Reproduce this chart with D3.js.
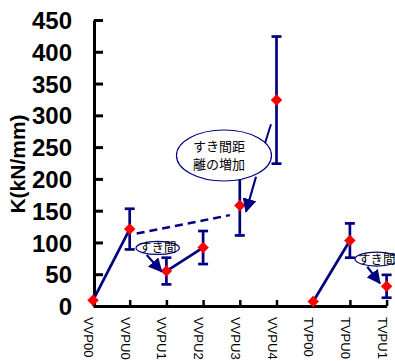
<!DOCTYPE html>
<html>
<head>
<meta charset="utf-8">
<script src="https://cdn.jsdelivr.net/npm/d3@7"></script>
<style>
  html, body { margin: 0; padding: 0; background: #fff; }
  svg { display: block; }
</style>
</head>
<body>
<svg id="chart" width="395" height="361"></svg>
<script>
// Stiffness K per specimen, with error half-widths
const categories = ["VVP00", "VVPU0", "VVPU1", "VVPU2", "VVPU3", "VVPU4", "TVP00", "TVPU0", "TVPU1"];
const kValues    = [9, 121, 55, 92, 158, 324, 7, 103, 31];
const kErrors    = [0, 32, 21, 26, 47, 100, 0, 27, 18];
// Pairs of specimens joined by the series line
const linkedPairs = [[0, 1], [2, 3], [6, 7]];
const yTicks = [0, 50, 100, 150, 200, 250, 300, 350, 400, 450];

// Callouts, placed in (category index, K) units
const dashedTrend = { from: [1.19, 114], to: [3.73, 143] };
const callouts = [
  { center: [1.763, 91.3], rx: 21.7, ry: 6.5, lines: ["すき間"], size: 12.5,
    arrow: { from: [1.463, 80.2], to: [1.872, 54.0] } },
  { center: [3.569, 236.8], rx: 47.5, ry: 25.5, lines: ["すき間距", "離の増加"], size: 13,
    arrow: { from: [4.441, 203.4], to: [4.169, 148.4] },
    leader: { from: [4.687, 256], to: [4.850, 285.9] } },
  { center: [7.730, 73.9], rx: 21.7, ry: 7, lines: ["すき間"], size: 12.5,
    arrow: { from: [7.474, 61.8], to: [7.820, 35.7] } }
];

const navy = "#000080";
const svg = d3.select("#chart");

const x = d3.scalePoint().domain(categories).range([93, 386.6]).padding(0);
const xi = d3.scaleLinear().domain([0, categories.length - 1]).range([93, 386.6]);
const y = d3.scaleLinear().domain([0, 450]).range([306, 20]);
const px = p => [xi(p[0]), y(p[1])];

// Arrowhead marker
svg.append("defs").append("marker")
  .attr("id", "head")
  .attr("markerUnits", "userSpaceOnUse")
  .attr("viewBox", "0 0 12 12")
  .attr("refX", 11).attr("refY", 6)
  .attr("markerWidth", 14).attr("markerHeight", 14)
  .attr("orient", "auto")
  .append("path").attr("d", "M0,0 L12,6 L0,12 Z").attr("fill", navy);

// Y axis
const yAxis = svg.append("g")
  .attr("transform", "translate(94,0)")
  .call(d3.axisLeft(y).tickValues(yTicks).tickSize(-9).tickSizeOuter(0).tickPadding(22));
yAxis.select(".domain").attr("stroke", "#000").attr("stroke-width", 3);
yAxis.selectAll(".tick line").attr("stroke", "#000").attr("stroke-width", 3);
yAxis.selectAll(".tick text")
  .attr("font-family", "Liberation Sans, Arial, sans-serif")
  .attr("font-weight", "bold").attr("font-size", 24).attr("fill", "#000")
  .attr("dy", "0.36em");

// X axis
const xAxis = svg.append("g")
  .attr("transform", "translate(0,306)")
  .call(d3.axisBottom(x).tickSize(-6).tickSizeOuter(0));
xAxis.select(".domain").attr("stroke", "#000").attr("stroke-width", 3);
xAxis.selectAll(".tick line").attr("stroke", "#000").attr("stroke-width", 2.5);
xAxis.selectAll(".tick text")
  .attr("font-family", "Liberation Sans, Arial, sans-serif")
  .attr("font-size", 13).attr("fill", "#000")
  .attr("text-anchor", "start")
  .attr("transform", "rotate(90)")
  .attr("x", 11).attr("y", 9.5).attr("dy", null);

// Y axis title
svg.append("text")
  .attr("transform", "translate(25,164) rotate(-90)")
  .attr("text-anchor", "middle")
  .attr("font-family", "Liberation Sans, Arial, sans-serif")
  .attr("font-weight", "bold").attr("font-size", 21)
  .text("K(kN/mm)");

const pts = categories.map((c, i) => ({ c, v: kValues[i], e: kErrors[i] }));

// Series line segments
svg.append("g").selectAll("line")
  .data(linkedPairs).join("line")
  .attr("x1", d => x(categories[d[0]])).attr("y1", d => y(kValues[d[0]]))
  .attr("x2", d => x(categories[d[1]])).attr("y2", d => y(kValues[d[1]]))
  .attr("stroke", navy).attr("stroke-width", 2.7);

// Error bars
const eb = svg.append("g").selectAll("g")
  .data(pts.filter(d => d.e > 0)).join("g")
  .attr("stroke", navy).attr("stroke-width", 2.7);
eb.append("line")
  .attr("x1", d => x(d.c)).attr("x2", d => x(d.c))
  .attr("y1", d => y(d.v - d.e)).attr("y2", d => y(d.v + d.e));
eb.append("line")
  .attr("x1", d => x(d.c) - 5).attr("x2", d => x(d.c) + 5)
  .attr("y1", d => y(d.v + d.e)).attr("y2", d => y(d.v + d.e));
eb.append("line")
  .attr("x1", d => x(d.c) - 5).attr("x2", d => x(d.c) + 5)
  .attr("y1", d => y(d.v - d.e)).attr("y2", d => y(d.v - d.e));

// Dashed trend line
svg.append("line")
  .attr("x1", px(dashedTrend.from)[0]).attr("y1", px(dashedTrend.from)[1])
  .attr("x2", px(dashedTrend.to)[0]).attr("y2", px(dashedTrend.to)[1])
  .attr("stroke", navy).attr("stroke-width", 2.5)
  .attr("stroke-dasharray", "8,5");

// Diamond markers
svg.append("g").selectAll("path")
  .data(pts).join("path")
  .attr("d", d3.symbol(d3.symbolSquare, 66))
  .attr("transform", d => `translate(${x(d.c)},${y(d.v)}) rotate(45)`)
  .attr("fill", "#ff0000");

// Callouts
const cg = svg.append("g").selectAll("g").data(callouts).join("g");
cg.filter(d => d.leader).append("line")
  .attr("x1", d => px(d.leader.from)[0]).attr("y1", d => px(d.leader.from)[1])
  .attr("x2", d => px(d.leader.to)[0]).attr("y2", d => px(d.leader.to)[1])
  .attr("stroke", navy).attr("stroke-width", 2);
cg.append("line")
  .attr("x1", d => px(d.arrow.from)[0]).attr("y1", d => px(d.arrow.from)[1])
  .attr("x2", d => px(d.arrow.to)[0]).attr("y2", d => px(d.arrow.to)[1])
  .attr("stroke", navy).attr("stroke-width", 2.2)
  .attr("marker-end", "url(#head)");
cg.append("ellipse")
  .attr("cx", d => px(d.center)[0]).attr("cy", d => px(d.center)[1])
  .attr("rx", d => d.rx).attr("ry", d => d.ry)
  .attr("fill", "#fff").attr("stroke", navy).attr("stroke-width", 1.2);
cg.each(function (d) {
  const [cx, cy] = px(d.center);
  const n = d.lines.length;
  const lh = d.size * 1.35;
  d3.select(this).selectAll("text").data(d.lines).join("text")
    .attr("x", n > 1 ? cx - 5 : cx)
    .attr("y", (t, i) => cy + (i - (n - 1) / 2) * lh)
    .attr("dy", "0.36em")
    .attr("text-anchor", "middle")
    .attr("font-family", "Noto Sans CJK JP, sans-serif")
    .attr("font-size", d.size).attr("fill", "#000")
    .text(t => t);
});
</script>
</body>
</html>
